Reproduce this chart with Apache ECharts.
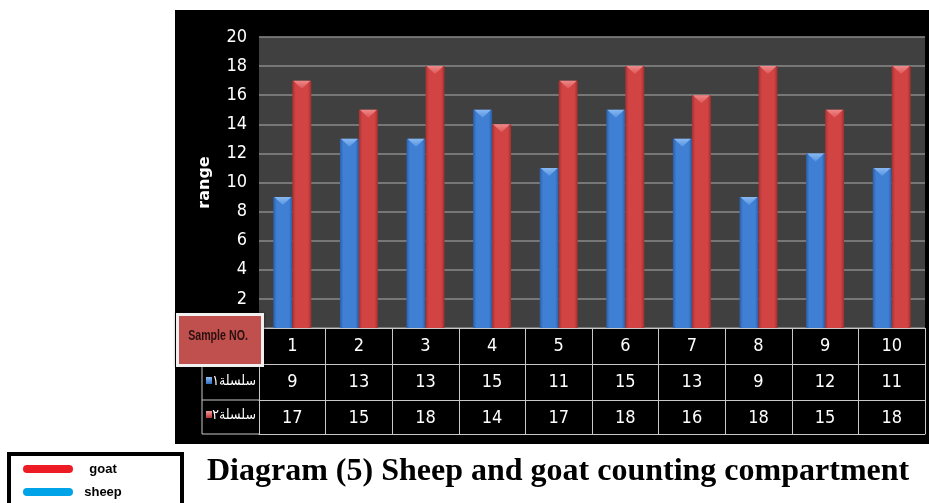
<!DOCTYPE html>
<html>
<head>
<meta charset="utf-8">
<title>Diagram (5)</title>
<script src="https://cdn.jsdelivr.net/npm/echarts@6/dist/echarts.min.js"></script>
<style>
  html, body { margin: 0; padding: 0; background: #ffffff; }
  #chart { width: 929px; height: 503px; }
</style>
</head>
<body>
<div id="chart"></div>
<script>
// Sample numbers along the x axis
const categories = ['1', '2', '3', '4', '5', '6', '7', '8', '9', '10'];
// Counts per sample
const sheep = [9, 13, 13, 15, 11, 15, 13, 9, 12, 11];
const goat = [17, 15, 18, 14, 17, 18, 16, 18, 15, 18];
// Row captions of the data table
const rowLabels = ['سلسلة١', 'سلسلة٢'];
const headerText = 'Sample NO.';
const axisName = 'range';
const legendNames = ['goat', 'sheep'];
const titleText = 'Diagram (5) Sheep and goat counting compartment';

const narrow = "'Liberation Sans Narrow', 'DejaVu Sans Condensed', 'Liberation Sans', sans-serif";
const lineColor = '#c8c8c8';

const chart = echarts.init(document.getElementById('chart'), null, { renderer: 'canvas' });

function barGradient(edgeL, mid, edgeR) {
  return new echarts.graphic.LinearGradient(0, 0, 1, 0, [
    { offset: 0, color: edgeL },
    { offset: 0.18, color: mid },
    { offset: 0.82, color: mid },
    { offset: 1, color: edgeR }
  ]);
}
function capGradient(light, mid) {
  return new echarts.graphic.LinearGradient(0, 0, 0, 1, [
    { offset: 0, color: light },
    { offset: 1, color: mid }
  ]);
}

// one row of the data table, drawn as an extra category axis under the plot
const tableAxis = (offset, labels, tickLen, showLabel) => ({
  type: 'category',
  gridIndex: 0,
  position: 'bottom',
  offset: offset,
  data: categories,
  boundaryGap: true,
  axisLine: { show: true, lineStyle: { color: lineColor, width: 1 } },
  axisTick: { show: tickLen > 0, length: tickLen, interval: 0, lineStyle: { color: lineColor, width: 1 } },
  axisLabel: {
    show: showLabel,
    interval: 0,
    margin: 0,
    lineHeight: 36,
    color: '#ffffff',
    fontSize: 18,
    fontFamily: narrow,
    formatter: (v, i) => labels[i]
  },
  splitLine: { show: false }
});

const option = {
  backgroundColor: '#ffffff',
  animation: false,
  grid: {
    left: 259, right: 4, top: 37, bottom: 175,
    containLabel: false,
    outerBoundsMode: 'none',
    show: true,
    backgroundColor: '#404040',
    borderWidth: 0
  },
  legend: {
    orient: 'vertical',
    left: 23,
    top: 462,
    padding: 0,
    itemWidth: 50,
    itemHeight: 8,
    itemGap: 9,
    icon: 'path://M4,0 H46 A4,4 0 0 1 46,8 H4 A4,4 0 0 1 4,0 Z',
    selectedMode: false,
    data: [
      { name: legendNames[0], itemStyle: { color: '#ed1c24' } },
      { name: legendNames[1], itemStyle: { color: '#00a2e8' } }
    ],
    formatter: '{t|{name}}',
    textStyle: {
      lineHeight: 14,
      rich: {
        t: { width: 50, align: 'center', fontSize: 13, fontWeight: 'bold', fontFamily: "'Liberation Sans', Arial, sans-serif", color: '#000000' }
      }
    }
  },
  xAxis: [
    tableAxis(0, categories, 36, true),
    tableAxis(36, sheep.map(String), 36, true),
    tableAxis(72, goat.map(String), 34, true),
    tableAxis(106, categories, 0, false)
  ],
  yAxis: {
    type: 'value',
    min: 0,
    max: 20,
    interval: 2,
    name: axisName,
    nameLocation: 'middle',
    nameRotate: 90,
    nameGap: 46,
    nameTextStyle: { color: '#ffffff', fontSize: 16, fontWeight: 'bold', fontFamily: "'DejaVu Sans', sans-serif" },
    axisLine: { show: false },
    axisTick: { show: false },
    axisLabel: {
      showMinLabel: false,
      margin: 12,
      color: '#ffffff',
      fontSize: 18,
      fontFamily: narrow
    },
    splitLine: { lineStyle: { color: '#8a8a8a', width: 1.5 } }
  },
  series: [
    {
      name: 'sheep',
      type: 'bar',
      xAxisIndex: 0,
      data: sheep,
      barWidth: 19,
      barGap: '0%',
      itemStyle: { color: barGradient('#2c5ea8', '#3f80d4', '#2b5ca4') },
      z: 2
    },
    {
      name: 'goat',
      type: 'bar',
      xAxisIndex: 0,
      data: goat,
      barWidth: 19,
      barGap: '0%',
      itemStyle: { color: barGradient('#a43131', '#d24444', '#a02e2e') },
      z: 2
    },
    {
      name: 'sheep cap',
      type: 'scatter',
      xAxisIndex: 0,
      data: sheep,
      symbol: 'path://M0,0 L20,0 L10,9 Z',
      symbolSize: [17, 8],
      symbolOffset: [-9.5, 4],
      itemStyle: { color: capGradient('#9cc6f7', '#5b9ae6') },
      silent: true,
      z: 3
    },
    {
      name: 'goat cap',
      type: 'scatter',
      xAxisIndex: 0,
      data: goat,
      symbol: 'path://M0,0 L20,0 L10,9 Z',
      symbolSize: [17, 8],
      symbolOffset: [9.5, 4],
      itemStyle: { color: capGradient('#f59a9a', '#e05a5a') },
      silent: true,
      z: 3
    }
  ],
  graphic: [
    // black panel behind the plot and table
    { type: 'rect', z: -10, silent: true, shape: { x: 175, y: 10, width: 754, height: 434 }, style: { fill: '#000000' } },
    // row-caption column of the table
    { type: 'line', z: 5, shape: { x1: 202, y1: 364, x2: 259, y2: 364 }, style: { stroke: lineColor, lineWidth: 1 } },
    { type: 'line', z: 5, shape: { x1: 202, y1: 400, x2: 259, y2: 400 }, style: { stroke: lineColor, lineWidth: 1 } },
    { type: 'line', z: 5, shape: { x1: 202, y1: 434, x2: 259, y2: 434 }, style: { stroke: lineColor, lineWidth: 1 } },
    { type: 'line', z: 5, shape: { x1: 202, y1: 364, x2: 202, y2: 434 }, style: { stroke: lineColor, lineWidth: 1 } },
    { type: 'rect', z: 5, shape: { x: 206, y: 377, width: 6, height: 7 }, style: { fill: capGradient('#8fbff5', '#2f6bc0') } },
    { type: 'rect', z: 5, shape: { x: 206, y: 411, width: 6, height: 7 }, style: { fill: capGradient('#f29a9a', '#b83535') } },
    { type: 'text', z: 5, style: { x: 256, y: 381, text: rowLabels[0], align: 'right', verticalAlign: 'middle', fill: '#ffffff', fontSize: 14, fontFamily: "'DejaVu Sans', sans-serif" }, scaleX: 0.9, originX: 256, originY: 381 },
    { type: 'text', z: 5, style: { x: 256, y: 415, text: rowLabels[1], align: 'right', verticalAlign: 'middle', fill: '#ffffff', fontSize: 14, fontFamily: "'DejaVu Sans', sans-serif" }, scaleX: 0.9, originX: 256, originY: 415 },
    // "Sample NO." header box
    { type: 'rect', z: 10, shape: { x: 176, y: 313, width: 88, height: 54 }, style: { fill: '#f0f0f0', shadowBlur: 3, shadowColor: 'rgba(0,0,0,0.5)' } },
    { type: 'rect', z: 11, shape: { x: 179, y: 316, width: 82, height: 48 }, style: { fill: '#c0504d' } },
    { type: 'text', z: 12, style: { x: 218, y: 336, text: headerText, align: 'center', verticalAlign: 'middle', fill: '#2a1010', fontSize: 14, fontWeight: 'bold', fontFamily: "'Liberation Sans', sans-serif" }, scaleX: 0.76, originX: 218, originY: 336 },
    // legend frame
    { type: 'rect', z: -5, shape: { x: 9, y: 454, width: 173, height: 60 }, style: { fill: '#ffffff', stroke: '#000000', lineWidth: 4 } },
    // caption
    { type: 'text', z: 5, style: { x: 207, y: 472, text: titleText, align: 'left', verticalAlign: 'middle', fill: '#000000', fontSize: 32, fontWeight: 'bold', fontFamily: "'Liberation Serif', 'Times New Roman', serif" } }
  ]
};

chart.setOption(option);
</script>
</body>
</html>
